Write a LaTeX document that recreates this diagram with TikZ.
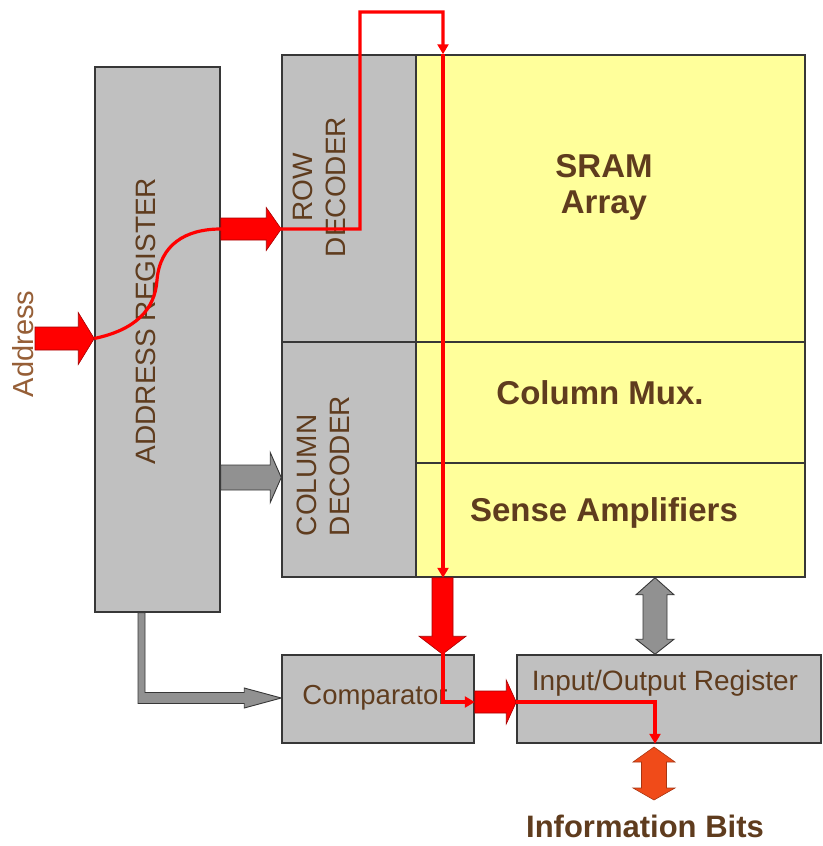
\documentclass[tikz,border=0pt]{standalone}
\usepackage{fontspec}
\setmainfont{Liberation Sans}
\usetikzlibrary{calc,arrows.meta}
\definecolor{boxgray}{RGB}{192,192,192}
\definecolor{arrayyellow}{RGB}{255,255,155}
\definecolor{txtbrown}{RGB}{95,60,30}
\definecolor{addrbrown}{RGB}{150,95,55}
\definecolor{sigred}{RGB}{255,0,0}
\definecolor{bitorange}{RGB}{240,75,25}
\definecolor{arrowgray}{RGB}{145,145,145}
\definecolor{edgegray}{RGB}{55,55,55}
% horizontal block arrow pointing right: start, end, shaft half, head half, head length, style
\newcommand{\blkR}[6]{\path[#6] let \p1=(#1), \p2=(#2) in
  (\x1,\y1+#3) -- (\x2-#5,\y1+#3) -- (\x2-#5,\y1+#4) -- (\x2,\y1) -- (\x2-#5,\y1-#4) -- (\x2-#5,\y1-#3) -- (\x1,\y1-#3) -- cycle;}
% vertical block arrow pointing down
\newcommand{\blkD}[6]{\path[#6] let \p1=(#1), \p2=(#2) in
  (\x1-#3,\y1) -- (\x1-#3,\y2+#5) -- (\x1-#4,\y2+#5) -- (\x1,\y2) -- (\x1+#4,\y2+#5) -- (\x1+#3,\y2+#5) -- (\x1+#3,\y1) -- cycle;}
% vertical double block arrow: top, bottom, shaft half, head half, top head length, bottom head length, style
\newcommand{\blkV}[7]{\path[#7] let \p1=(#1), \p2=(#2) in
  (\x1,\y1) -- (\x1+#4,\y1-#5) -- (\x1+#3,\y1-#5) -- (\x1+#3,\y2+#6) -- (\x1+#4,\y2+#6) -- (\x1,\y2)
  -- (\x1-#4,\y2+#6) -- (\x1-#3,\y2+#6) -- (\x1-#3,\y1-#5) -- (\x1-#4,\y1-#5) -- cycle;}
\tikzset{
 grayblock/.style={draw=edgegray, line width=1.5pt, fill=boxgray, inner sep=0pt},
 yellowblock/.style={draw=edgegray, line width=1.5pt, fill=arrayyellow, inner sep=0pt},
 lbl/.style={text=txtbrown, inner sep=0pt, font=\fontsize{28}{33}\selectfont},
 blbl/.style={text=txtbrown, inner sep=0pt, font=\fontsize{33}{36}\selectfont\bfseries},
 redblk/.style={fill=sigred, draw=red!65!black, line width=0.6pt},
 grayblk/.style={fill=arrowgray, draw=edgegray, line width=0.9pt},
 orangeblk/.style={fill=bitorange, draw=bitorange!70!black, line width=0.6pt},
 signal/.style={draw=sigred, line width=3.2pt},
 sigtip/.style={-{Triangle[length=10pt,width=11pt]}},
}
\begin{document}
\begin{tikzpicture}[x=1pt,y=-1pt]
\useasboundingbox (0,0) rectangle (822,846);
% blocks
\node[grayblock, minimum width=125pt, minimum height=545pt] (addr) at (157.5,339.5) {};
\node[grayblock, minimum width=134pt, minimum height=287pt] (rowdec) at (349,198.5) {};
\node[grayblock, minimum width=134pt, minimum height=235pt] (coldec) at (349,459.5) {};
\node[yellowblock, minimum width=389pt, minimum height=287pt] (sram) at (610.5,198.5) {};
\node[yellowblock, minimum width=389pt, minimum height=121pt] (colmux) at (610.5,402.5) {};
\node[yellowblock, minimum width=389pt, minimum height=114pt] (sense) at (610.5,520) {};
\node[grayblock, minimum width=192pt, minimum height=88pt] (comp) at (378,699) {};
\node[grayblock, minimum width=304pt, minimum height=88pt] (io) at (669,699) {};
% texts
\node[lbl, rotate=90] (addrtxt) at (146,321) {ADDRESS REGISTER};
\node[lbl, rotate=90, align=center] (rowtxt) at (319,187) {ROW\\DECODER};
\node[lbl, rotate=90, align=left] (coltxt) at (323,466) {COLUMN\\DECODER};
\node[blbl, align=center] (sramtxt) at (604,187) {SRAM\\Array};
\node[blbl] (muxtxt) at (600,393) {Column Mux.};
\node[blbl] (sensetxt) at (604,513) {Sense Amplifiers};
\node[lbl, font=\fontsize{27.5}{33}\selectfont] (comptxt) at (375,698) {Comparator};
\node[lbl] (iotxt) at (665,683) {Input/Output Register};
\node[blbl, font=\fontsize{31}{35}\selectfont\bfseries] (infotxt) at (645,826) {Information Bits};
\node[text=addrbrown, inner sep=0pt, font=\fontsize{29}{32}\selectfont, rotate=90] (addrlbl) at (23,344) {Address};
% helper coordinates
\coordinate (yAddrIn) at (0,338.5);
\coordinate (addrtail) at (35,338.5);
\coordinate (yRow) at (0,229);
\coordinate (yCol) at (0,477.5);
\coordinate (xData) at (442.5,0);
\coordinate (yCmp) at (0,702);
\coordinate (xIO) at (655,0);
\coordinate (xSig) at (443,0);
\coordinate (bitstop) at (654,747);
\coordinate (bitsend) at (654,800);
\coordinate (xL) at (141.5,0);
\coordinate (yL) at (0,698);
% block arrows
\blkR{addrtail}{addr.west |- yAddrIn}{11.5pt}{26pt}{16pt}{redblk}
\blkR{addr.east |- yRow}{rowdec.west |- yRow}{11pt}{21.5pt}{15pt}{redblk}
\blkR{addr.east |- yCol}{coldec.west |- yCol}{12.5pt}{25pt}{11pt}{grayblk}
\blkD{xData |- sense.south}{xData |- comp.north}{10.5pt}{23.5pt}{18pt}{redblk}
\blkR{comp.east |- yCmp}{io.west |- yCmp}{11pt}{22pt}{10pt}{redblk}
\blkV{xIO |- sense.south}{xIO |- io.north}{12pt}{19pt}{17pt}{15pt}{grayblk}
\blkV{bitstop}{bitsend}{12.5pt}{21pt}{15pt}{12pt}{orangeblk}
% L-shaped gray arrow from address register to comparator
\path[grayblk] let \p1=(xL |- addr.south), \p2=(comp.west |- yL) in
  (\x1-3.5pt,\y1) -- (\x1-3.5pt,\y2-5.5pt) -- (\x2-37pt,\y2-5.5pt) -- (\x2-37pt,\y2-10pt) -- (\x2,\y2)
  -- (\x2-37pt,\y2+10pt) -- (\x2-37pt,\y2+5.5pt) -- (\x1+3.5pt,\y2+5.5pt) -- (\x1+3.5pt,\y1) -- cycle;
% thin red signal path
\draw[signal, sigtip] (addr.west |- yAddrIn) .. controls (135,330) and (155,310) .. (157,280)
  .. controls (160,245) and (185,229) .. (addr.east |- yRow) -- (360,229) -- (360,12) -- (443,12) -- (xSig |- sram.north);
\draw[signal, sigtip] (xSig |- sram.north) -- (xSig |- sense.south);
\draw[signal, sigtip] (xSig |- sense.south) -- (xSig |- yCmp) -- (comp.east |- yCmp);
\draw[signal, sigtip] (io.west |- yCmp) -- (xIO |- yCmp) -- (xIO |- io.south);
\end{tikzpicture}
\end{document}
